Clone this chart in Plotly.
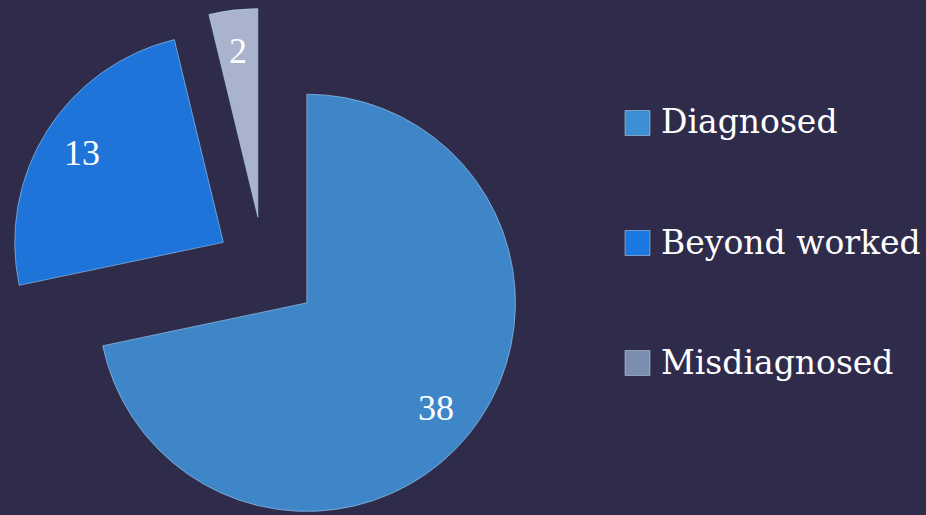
import math
import plotly.graph_objects as go

# ---- data ----
labels = ["Diagnosed", "Beyond worked", "Misdiagnosed"]
values = [38, 13, 2]
slice_colors = ["#3f86c8", "#1e74d8", "#a9b3cd"]
legend_colors = ["#3c8fd2", "#1a78e0", "#7c8db0"]
pulls = [0.265, 0.23, 0.245]

# ---- layout constants ----
W, H = 926, 535          # figure is a little taller than the 515px window (bottom is empty)
BG = "#2f2c4b"
dom_x = [0.0, 0.57]
dom_y = [0.0049, 0.9933]

fig = go.Figure(
    go.Pie(
        labels=labels,
        values=values,
        sort=False,
        direction="clockwise",
        rotation=0,
        pull=pulls,
        marker=dict(colors=slice_colors,
                    line=dict(color="rgba(170,215,250,0.55)", width=1)),
        textinfo="none",
        hoverinfo="label+value",
        domain=dict(x=dom_x, y=dom_y),
        showlegend=False,
    )
)

# replicate plotly's pie geometry to position value labels
box_w = W * (dom_x[1] - dom_x[0])
box_h = H * (dom_y[1] - dom_y[0])
r = min(box_w, box_h) / 2 / (1 + max(pulls))
cx = W * (dom_x[0] + dom_x[1]) / 2
cy = H * (1 - dom_y[0]) - box_h / 2
total = sum(values)

annotations = []
cum = 0
for v, p in zip(values, pulls):
    mid = math.radians(360 * (cum + v / 2) / total)
    cum += v
    k = (p + 0.8) * r
    px = cx + k * math.sin(mid)
    py = cy - k * math.cos(mid)
    annotations.append(dict(
        x=px / W, y=1 - py / H, xref="paper", yref="paper",
        text=str(v), showarrow=False, xanchor="center", yanchor="middle",
        font=dict(family="Liberation Serif", size=36, color="white"),
    ))

# custom legend
shapes = []
leg_x0, leg_size, leg_y0, leg_gap = 625, 25, 123, 120
for i, (lab, col) in enumerate(zip(labels, legend_colors)):
    yc = leg_y0 + i * leg_gap
    shapes.append(dict(
        type="rect", xref="paper", yref="paper",
        x0=leg_x0 / W, x1=(leg_x0 + leg_size) / W,
        y0=1 - (yc + leg_size / 2) / H, y1=1 - (yc - leg_size / 2) / H,
        fillcolor=col, line=dict(color="rgba(200,225,250,0.5)", width=1),
    ))
    annotations.append(dict(
        x=(leg_x0 + leg_size + 9) / W, y=1 - (yc - 1) / H, xref="paper", yref="paper",
        text=lab, showarrow=False, xanchor="left", yanchor="middle",
        font=dict(family="DejaVu Serif", size=33, color="white"),
    ))

fig.update_layout(
    width=W, height=H,
    margin=dict(l=0, r=0, t=0, b=0),
    paper_bgcolor=BG, plot_bgcolor=BG,
    annotations=annotations, shapes=shapes,
    showlegend=False,
)

page_css = (
    "document.documentElement.style.overflow='hidden';"
    "document.documentElement.style.background='%s';"
    "document.body.style.margin='0';"
    "document.body.style.overflow='hidden';"
    "document.body.style.background='%s';" % (BG, BG)
)

fig.write_html("out.html", post_script=page_css, config={"displayModeBar": False})
